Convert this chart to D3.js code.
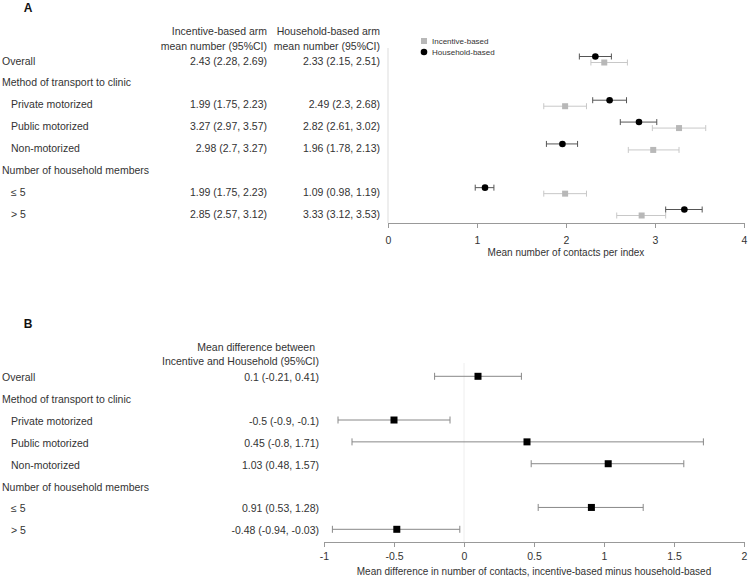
<!DOCTYPE html>
<html>
<head>
<meta charset="utf-8">
<script src="https://cdn.jsdelivr.net/npm/d3@7"></script>
<style>
	body { margin: 0; background: #fff; }
	text { font-family: "Liberation Sans", Arial, sans-serif; }
</style>
</head>
<body>
<svg id="chart" width="749" height="577"></svg>
<script>
// rows of the table (same for both panels); header rows carry no values
const categories = ['Overall', 'Method of transport to clinic', 'Private motorized', 'Public motorized',
	'Non-motorized', 'Number of household members', '\u2264 5', '> 5'];
const indented = [false, false, true, true, true, false, true, true];

const incentiveMean = [2.43, null, 1.99, 3.27, 2.98, null, 1.99, 2.85];
const incentiveLo   = [2.28, null, 1.75, 2.97, 2.7,  null, 1.75, 2.57];
const incentiveHi   = [2.69, null, 2.23, 3.57, 3.27, null, 2.23, 3.12];

const householdMean = [2.33, null, 2.49, 2.82, 1.96, null, 1.09, 3.33];
const householdLo   = [2.15, null, 2.3,  2.61, 1.78, null, 0.98, 3.12];
const householdHi   = [2.51, null, 2.68, 3.02, 2.13, null, 1.19, 3.53];

const diffMean = [0.1,   null, -0.5, 0.45, 1.03, null, 0.91, -0.48];
const diffLo   = [-0.21, null, -0.9, -0.8, 0.48, null, 0.53, -0.94];
const diffHi   = [0.41,  null, -0.1, 1.71, 1.57, null, 1.28, -0.03];

const ticksA = [0, 1, 2, 3, 4];
const ticksB = [-1, -0.5, 0, 0.5, 1, 1.5, 2];

const svg = d3.select('#chart');
const textCol = '#333';
const fs = 10.5;

function ci(m, lo, hi) {
	return m + ' (' + lo + ', ' + hi + ')';
}

function rowLabels(g, y) {
	g.selectAll('text.cat')
		.data(categories)
		.join('text')
		.attr('class', 'cat')
		.attr('x', (d, i) => indented[i] ? 11 : 2)
		.attr('y', (d, i) => y(i) + 5)
		.attr('font-size', fs)
		.attr('fill', textCol)
		.text(d => d);
}

function valueColumn(g, y, xRight, mean, lo, hi) {
	g.append('g').selectAll('text')
		.data(mean.map((m, i) => ({ m: m, i: i })).filter(d => d.m !== null))
		.join('text')
		.attr('x', xRight)
		.attr('y', d => y(d.i) + 5)
		.attr('text-anchor', 'end')
		.attr('font-size', fs)
		.attr('fill', textCol)
		.text(d => ci(d.m, lo[d.i], hi[d.i]));
}

function errorBars(g, x, y, dy, mean, lo, hi, color, cap) {
	let data = mean.map((m, i) => ({ m: m, lo: lo[i], hi: hi[i], y: y(i) + dy })).filter(d => d.m !== null);
	let eg = g.append('g').attr('stroke', color).attr('stroke-width', 1);
	eg.selectAll('line.h').data(data).join('line')
		.attr('x1', d => x(d.lo)).attr('x2', d => x(d.hi))
		.attr('y1', d => d.y).attr('y2', d => d.y);
	eg.selectAll('line.l').data(data).join('line')
		.attr('x1', d => x(d.lo)).attr('x2', d => x(d.lo))
		.attr('y1', d => d.y - cap).attr('y2', d => d.y + cap);
	eg.selectAll('line.r').data(data).join('line')
		.attr('x1', d => x(d.hi)).attr('x2', d => x(d.hi))
		.attr('y1', d => d.y - cap).attr('y2', d => d.y + cap);
	return data;
}

function xAxis(g, x, yAxis, ticks, pad, title, titleY) {
	let ax = g.append('g')
		.attr('transform', 'translate(0,' + yAxis + ')')
		.call(d3.axisBottom(x).tickValues(ticks).tickSize(5).tickPadding(pad).tickFormat(d => String(d)));
	ax.select('.domain').attr('stroke', '#999');
	ax.selectAll('.tick line').attr('stroke', '#999');
	ax.selectAll('.tick text')
		.attr('fill', textCol)
		.attr('font-size', fs)
		.attr('font-family', '"Liberation Sans", Arial, sans-serif');
	g.append('text')
		.attr('x', (x.range()[0] + x.range()[1]) / 2)
		.attr('y', titleY)
		.attr('text-anchor', 'middle')
		.attr('font-size', 10)
		.attr('fill', textCol)
		.text(title);
}

// ---------- Panel A ----------
let gA = svg.append('g');
let xA = d3.scaleLinear().domain([0, 4]).range([388, 744]);
let yA = d3.scalePoint().domain(d3.range(categories.length)).range([59.5, 212.5]);

gA.append('text').attr('x', 28).attr('y', 12).attr('text-anchor', 'middle')
	.attr('font-size', 12).attr('font-weight', 'bold').attr('fill', '#111').text('A');

[['Incentive-based arm', 267], ['Household-based arm', 380]].forEach(function(h) {
	gA.append('text').attr('x', h[1]).attr('y', 35).attr('text-anchor', 'end')
		.attr('font-size', fs).attr('fill', textCol).text(h[0]);
	gA.append('text').attr('x', h[1]).attr('y', 49.5).attr('text-anchor', 'end')
		.attr('font-size', fs).attr('fill', textCol).text('mean number (95%CI)');
});

rowLabels(gA, yA);
valueColumn(gA, yA, 267, incentiveMean, incentiveLo, incentiveHi);
valueColumn(gA, yA, 380, householdMean, householdLo, householdHi);

gA.append('line')
	.attr('x1', xA(0)).attr('x2', xA(0))
	.attr('y1', 48).attr('y2', 223)
	.attr('stroke', '#ddd');

let incData = errorBars(gA, xA, yA, 3, incentiveMean, incentiveLo, incentiveHi, '#c8c8c8', 3);
let hhData = errorBars(gA, xA, yA, -3, householdMean, householdLo, householdHi, '#555', 3);

gA.append('g').selectAll('rect').data(incData).join('rect')
	.attr('x', d => xA(d.m) - 3).attr('y', d => d.y - 3)
	.attr('width', 6).attr('height', 6)
	.attr('fill', '#b8b8b8');

gA.append('g').selectAll('circle').data(hhData).join('circle')
	.attr('cx', d => xA(d.m)).attr('cy', d => d.y)
	.attr('r', 3.3)
	.attr('fill', '#000');

xAxis(gA, xA, 223, ticksA, 9, 'Mean number of contacts per index', 256);

// legend
let lg = gA.append('g');
lg.append('rect').attr('x', 421).attr('y', 38).attr('width', 6).attr('height', 6).attr('fill', '#b8b8b8');
lg.append('circle').attr('cx', 424).attr('cy', 52).attr('r', 3.3).attr('fill', '#000');
lg.append('text').attr('x', 432).attr('y', 44).attr('font-size', 8).attr('fill', textCol).text('Incentive-based');
lg.append('text').attr('x', 432).attr('y', 55).attr('font-size', 8).attr('fill', textCol).text('Household-based');

// ---------- Panel B ----------
let gB = svg.append('g');
let xB = d3.scaleLinear().domain([-1, 2]).range([324, 744]);
let yB = d3.scalePoint().domain(d3.range(categories.length)).range([376.3, 529.3]);

gB.append('text').attr('x', 28).attr('y', 328).attr('text-anchor', 'middle')
	.attr('font-size', 12).attr('font-weight', 'bold').attr('fill', '#111').text('B');

gB.append('text').attr('x', 315).attr('y', 350.5).attr('text-anchor', 'end')
	.attr('font-size', fs).attr('fill', textCol).text('Mean difference between');
gB.append('text').attr('x', 319).attr('y', 365).attr('text-anchor', 'end')
	.attr('font-size', fs).attr('fill', textCol).text('Incentive and Household (95%CI)');

rowLabels(gB, yB);
valueColumn(gB, yB, 319, diffMean, diffLo, diffHi);

gB.append('line')
	.attr('x1', xB(0)).attr('x2', xB(0))
	.attr('y1', 363).attr('y2', 542)
	.attr('stroke', '#eee');

let dData = errorBars(gB, xB, yB, 0, diffMean, diffLo, diffHi, '#888', 3.5);

gB.append('g').selectAll('rect').data(dData).join('rect')
	.attr('x', d => xB(d.m) - 3.5).attr('y', d => d.y - 3.5)
	.attr('width', 7).attr('height', 7)
	.attr('fill', '#000');

xAxis(gB, xB, 542, ticksB, 6, 'Mean difference in number of contacts, incentive-based minus household-based', 575);
</script>
</body>
</html>
